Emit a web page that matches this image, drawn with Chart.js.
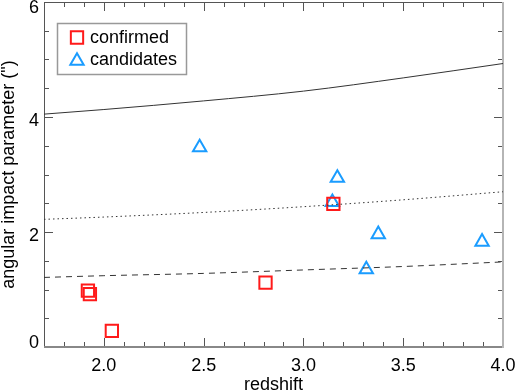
<!DOCTYPE html>
<html>
<head>
<meta charset="utf-8">
<script src="https://cdn.jsdelivr.net/npm/chart.js@4.4.1/dist/chart.umd.min.js"></script>
<style>
  body{margin:0;background:#fff;}
  #wrap{width:516px;height:392px;}
</style>
</head>
<body>
<div id="wrap"><canvas id="impactChart" width="516" height="392"></canvas></div>
<script>
// confirmed systems
const confirmedZ = [1.92, 1.93, 2.04, 2.81, 3.15];
const confirmedB = [0.98, 0.92, 0.28, 1.12, 2.49];

// candidates
const candidateZ = [2.48, 3.17, 3.145, 3.375, 3.315, 3.895];
const candidateB = [3.47, 2.94, 2.52, 1.96, 1.35, 1.83];

// reference curves (fixed physical separation)
const curveZ = [1.7, 2.0, 2.5, 3.0, 3.5, 4.0];
const curveSolid = [4.05, 4.13, 4.28, 4.45, 4.68, 4.93];
const curveDotted = [2.22, 2.26, 2.34, 2.44, 2.56, 2.70];
const curveDashed = [1.21, 1.24, 1.28, 1.34, 1.40, 1.48];

const xTickLabels = ["2.0", "2.5", "3.0", "3.5", "4.0"];
const yTickLabels = ["0", "2", "4", "6"];

const FONT = "18px 'Liberation Sans', Arial, Helvetica, sans-serif";
const RED = "#ff1a1a";
const BLUE = "#1a9cff";

function pts(xs, ys){
    return xs.map((v, i) => ({x: v, y: ys[i]}));
}

function curve(ys, dash){
    return {
        data: pts(curveZ, ys),
        showLine: true,
        pointRadius: 0,
        borderColor: "#333",
        borderWidth: 1,
        borderDash: dash,
        cubicInterpolationMode: "monotone",
        fill: false
    };
}

// axes box, inward ticks and labels
const framePlugin = {
    id: "frame",
    beforeDatasetsDraw(chart){
        const {ctx, chartArea: a, scales: {x, y}} = chart;
        ctx.save();
        ctx.strokeStyle = "#555";
        ctx.lineWidth = 1;
        ctx.beginPath();
        for(let i = 17; i <= 40; i++){
            const px = Math.round(x.getPixelForValue(i / 10)) + 0.5;
            const len = (i % 5 === 0) ? 9 : 5;
            ctx.moveTo(px, a.bottom); ctx.lineTo(px, a.bottom - len);
            ctx.moveTo(px, a.top); ctx.lineTo(px, a.top + len);
        }
        for(let i = 0; i <= 12; i++){
            const py = Math.round(y.getPixelForValue(i / 2)) + 0.5;
            const len = (i % 4 === 0) ? 9 : 5;
            ctx.moveTo(a.left, py); ctx.lineTo(a.left + len, py);
            ctx.moveTo(a.right, py); ctx.lineTo(a.right - len, py);
        }
        ctx.stroke();

        // frame
        ctx.beginPath();
        ctx.moveTo(a.left + 0.5, a.top + 0.5);
        ctx.lineTo(a.right, a.top + 0.5);
        ctx.moveTo(a.left + 0.5, a.top);
        ctx.lineTo(a.left + 0.5, a.bottom);
        ctx.stroke();
        ctx.strokeStyle = "#888";
        ctx.lineWidth = 2;
        ctx.beginPath();
        ctx.moveTo(a.left, a.bottom);
        ctx.lineTo(a.right, a.bottom);
        ctx.stroke();
        ctx.strokeStyle = "#b5b5b5";
        ctx.beginPath();
        ctx.moveTo(a.right, a.top);
        ctx.lineTo(a.right, a.bottom + 1);
        ctx.stroke();

        // tick labels
        ctx.fillStyle = "#000";
        ctx.font = FONT;
        ctx.textAlign = "center";
        ctx.textBaseline = "alphabetic";
        xTickLabels.forEach(t => {
            ctx.fillText(t, x.getPixelForValue(parseFloat(t)), 371);
        });
        ctx.textAlign = "right";
        yTickLabels.forEach(t => {
            const py = y.getPixelForValue(parseFloat(t));
            const base = Math.min(Math.max(py + 9, 13), a.bottom + 1);
            ctx.fillText(t, 39, base);
        });

        // axis titles
        ctx.textAlign = "center";
        ctx.fillText("redshift", (a.left + a.right) / 2, 390);
        ctx.save();
        ctx.translate(14, (a.top + a.bottom) / 2);
        ctx.rotate(-Math.PI / 2);
        ctx.fillText("angular impact parameter (\")", 0, 0);
        ctx.restore();
        ctx.restore();
    },
    afterDraw(chart){
        const ctx = chart.ctx;
        ctx.save();
        ctx.strokeStyle = "#999";
        ctx.lineWidth = 1.5;
        ctx.strokeRect(57.5, 23.5, 129, 51);

        ctx.lineWidth = 2;
        ctx.fillStyle = "rgba(0,0,0,0)";
        ctx.strokeStyle = RED;
        Chart.helpers.drawPoint(ctx, {pointStyle: "rect", radius: 8.7, borderWidth: 2}, 77, 37.5);
        ctx.strokeStyle = BLUE;
        Chart.helpers.drawPoint(ctx, {pointStyle: "triangle", radius: 7.7, borderWidth: 2}, 77, 61);

        ctx.fillStyle = "#000";
        ctx.font = FONT;
        ctx.textAlign = "left";
        ctx.textBaseline = "alphabetic";
        ctx.fillText("confirmed", 90, 43);
        ctx.fillText("candidates", 90, 65);
        ctx.restore();
    }
};

new Chart(document.getElementById("impactChart").getContext("2d"), {
    type: "scatter",
    data: {
        datasets: [
            curve(curveSolid, []),
            curve(curveDotted, [1.5, 3]),
            curve(curveDashed, [6, 5]),
            {
                label: "confirmed",
                data: pts(confirmedZ, confirmedB),
                pointStyle: "rect",
                pointRadius: 8.7,
                pointBorderWidth: 2,
                pointBorderColor: RED,
                pointBackgroundColor: "rgba(0,0,0,0)"
            },
            {
                label: "candidates",
                data: pts(candidateZ, candidateB),
                pointStyle: "triangle",
                pointRadius: 7.7,
                pointBorderWidth: 2,
                pointBorderColor: BLUE,
                pointBackgroundColor: "rgba(0,0,0,0)"
            }
        ]
    },
    options: {
        responsive: false,
        animation: false,
        layout: {autoPadding: false, padding: {left: 44, right: 13, top: 2, bottom: 45}},
        plugins: {legend: {display: false}, tooltip: {enabled: false}},
        scales: {
            x: {type: "linear", min: 1.7, max: 4.0, display: false},
            y: {type: "linear", min: 0, max: 6, display: false}
        }
    },
    plugins: [framePlugin]
});
</script>
</body>
</html>
